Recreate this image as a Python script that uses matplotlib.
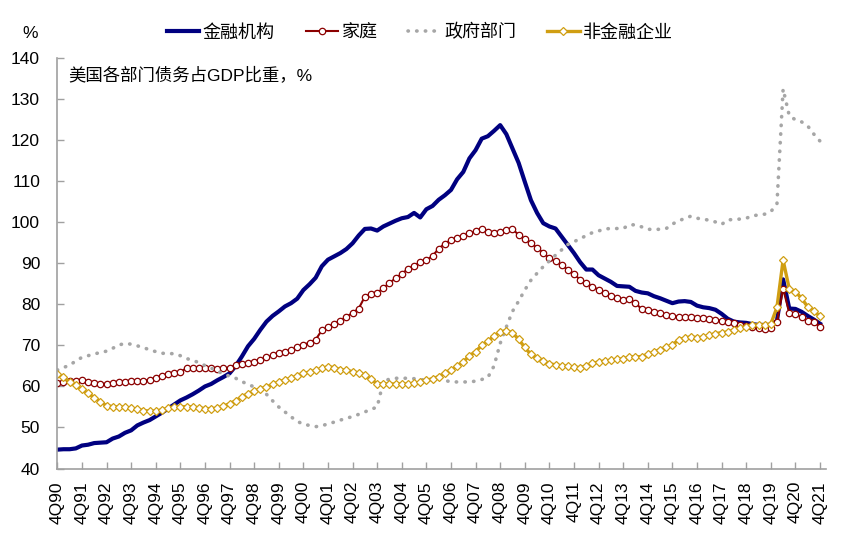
import matplotlib
matplotlib.use("Agg")
import matplotlib.pyplot as plt
import numpy as np

plt.rcParams['font.family'] = ['Liberation Sans', 'Noto Sans CJK SC']

# quarters 4Q90 .. 4Q21
years = list(range(90, 100)) + list(range(0, 22))
tick_labels = ["4Q%02d" % y for y in years]

# debt / GDP, %, one value per quarter (4Q90 first, then Q1..Q4 by year)
financial = [44.6,
    44.7, 44.7, 44.9, 45.6,  45.8, 46.2, 46.3, 46.4,  47.3, 47.8, 48.7, 49.3,
    50.5, 51.2, 51.8, 52.7,  53.6, 54.6, 55.6, 56.6,  57.3, 58.1, 59.0, 60.0,
    60.6, 61.5, 62.3, 63.2,  65.0, 67.3, 69.8, 71.6,  73.8, 75.8, 77.2, 78.3,
    79.5, 80.3, 81.4, 83.5,  84.9, 86.5, 89.3, 90.9,  91.7, 92.5, 93.5, 94.9,
    96.8, 98.4, 98.5, 98.0,  99.0, 99.7, 100.4, 101.0,  101.3, 102.3, 101.2, 103.2,
    104.0, 105.5, 106.6, 107.9,  110.5, 112.3, 115.6, 117.6,  120.4, 121.0, 122.3, 123.7,
    121.5, 118.0, 114.5, 109.9,  105.4, 102.3, 99.8, 99.0,  98.5, 96.5, 94.5, 92.5,
    90.3, 88.5, 88.5, 87.1,  86.3, 85.5, 84.5, 84.4,  84.3, 83.3, 82.9, 82.7,
    82.0, 81.5, 80.9, 80.3,  80.7, 80.8, 80.6, 79.7,  79.3, 79.1, 78.7, 77.7,
    76.5, 75.8, 75.6, 75.5,  75.2, 75.0, 75.0, 75.0,  76.0, 86.1, 79.0, 78.9,
    78.2, 77.2, 76.3, 75.3]

household = [60.8,
    61.2, 61.3, 61.4, 61.5,  61.1, 60.8, 60.7, 60.6,  60.8, 61.0, 61.2, 61.4,
    61.4, 61.4, 61.6, 62.1,  62.6, 63.0, 63.4, 63.6,  64.4, 64.4, 64.4, 64.4,
    64.4, 64.3, 64.4, 64.6,  65.2, 65.5, 65.6, 66.0,  66.5, 67.1, 67.6, 68.2,
    68.4, 68.8, 69.5, 70.1,  70.7, 71.4, 73.7, 74.4,  75.3, 76.0, 77.0, 77.9,
    79.0, 81.9, 82.5, 82.8,  84.0, 85.2, 86.4, 87.4,  88.7, 89.4, 90.3, 90.8,
    91.8, 93.6, 94.8, 95.7,  96.2, 96.7, 97.3, 97.8,  98.5, 97.7, 97.5, 97.6,
    98.1, 98.3, 97.0, 95.9,  94.9, 93.8, 92.6, 91.2,  90.5, 89.6, 88.4, 87.4,
    86.0, 85.2, 84.3, 83.6,  82.8, 82.0, 81.5, 81.0,  81.2, 80.4, 78.8, 78.6,
    78.2, 77.8, 77.5, 77.2,  77.0, 77.0, 76.9, 76.8,  76.7, 76.5, 76.3, 76.0,
    75.8, 75.5, 75.0, 74.8,  74.5, 74.3, 74.1, 74.2,  75.7, 83.8, 78.0, 77.6,
    77.0, 76.0, 75.6, 74.6]

government = [64.0,
    64.6, 65.2, 66.2, 67.1,  67.5, 67.9, 68.3, 68.6,  69.3, 70.1, 70.5, 70.3,
    69.9, 69.5, 68.9, 68.5,  68.1, 68.0, 68.0, 67.5,  66.8, 66.4, 65.8, 65.1,
    64.5, 63.7, 63.1, 62.5,  62.0, 61.2, 60.5, 59.9,  59.0, 58.1, 56.5, 55.0,
    53.8, 52.6, 51.5, 50.8,  50.5, 50.2, 50.4, 50.9,  51.3, 51.8, 52.2, 52.7,
    53.2, 53.8, 54.4, 55.0,  61.2, 61.8, 62.0, 62.0,  62.0, 61.9, 61.7, 61.5,
    61.7, 62.0, 61.5, 61.1,  61.1, 61.1, 61.1, 61.3,  61.7, 62.2, 65.0, 70.5,
    74.5, 78.3, 80.8, 83.5,  85.9, 87.6, 89.2, 90.6,  92.0, 93.3, 94.6, 95.3,
    96.0, 96.8, 97.5, 97.9,  98.4, 98.5, 98.5, 98.5,  99.4, 99.4, 98.9, 98.3,
    98.3, 98.3, 98.5, 99.6,  100.3, 101.0, 101.5, 101.0,  100.8, 100.5, 100.1, 99.5,
    100.6, 100.7, 100.8, 101.0,  101.6, 101.8, 102.0, 102.6,  104.5, 132.5, 126.0, 125.0,
    124.5, 123.5, 121.5, 119.8]

nonfinancial = [63.0,
    62.2, 61.1, 60.3, 59.3,  58.3, 57.3, 56.3, 55.3,  55.1, 55.0, 54.9, 54.7,
    54.4, 54.1, 54.0, 54.0,  54.3, 54.7, 55.0, 55.0,  55.1, 55.0, 54.8, 54.6,
    54.6, 54.7, 55.2, 55.8,  56.5, 57.5, 58.2, 58.9,  59.4, 59.9, 60.5, 61.1,
    61.6, 62.0, 62.6, 63.2,  63.5, 63.9, 64.4, 64.8,  64.6, 64.1, 63.9, 63.6,
    63.3, 62.8, 61.7, 60.7,  60.6, 60.6, 60.6, 60.6,  60.6, 60.8, 61.0, 61.5,
    61.9, 62.4, 63.3, 64.0,  65.0, 66.0, 67.5, 68.5,  70.0, 71.0, 72.3, 73.3,
    73.6, 73.1, 71.5, 69.5,  67.8, 66.9, 66.3, 65.5,  65.3, 65.0, 64.9, 64.7,
    64.6, 65.0, 65.6, 66.0,  66.2, 66.4, 66.6, 66.7,  67.2, 67.2, 67.3, 67.8,
    68.4, 69.0, 69.5, 70.1,  71.4, 71.8, 72.1, 71.9,  72.0, 72.5, 72.9, 73.1,
    73.3, 73.8, 74.3, 74.6,  75.0, 75.0, 75.0, 75.2,  79.3, 90.8, 83.8, 83.1,
    81.5, 79.4, 78.4, 77.1]

series_names = ["金融机构", "家庭", "政府部门", "非金融企业"]

x = np.arange(len(financial))

fig = plt.figure(figsize=(8.66, 5.47), dpi=100)
ax = fig.add_axes([0.0655, 0.1435, 0.8885, 0.75])

ax.plot(x, financial, color="#000080", lw=3.0, label=series_names[0])
ax.plot(x, household, color="#8B0000", lw=1.5, marker="o", ms=4.6,
        mfc="white", mec="#8B0000", mew=0.9, label=series_names[1])
ax.plot(x, government, color="#A6A6A6", lw=2.6, linestyle=(0, (0.1, 2.3)),
        dash_capstyle="round", label=series_names[2])
ax.plot(x, nonfinancial, color="#D09E12", lw=2.4, marker="D", ms=3.8,
        mfc="white", mec="#D09E12", mew=0.9, label=series_names[3])

ax.set_xlim(-0.1, 125)
ax.set_ylim(40, 140)
ax.set_yticks(range(40, 141, 10))
ax.set_xticks(x[::4])
ax.set_xticklabels(tick_labels, rotation=90)

for s in ["top", "right"]:
    ax.spines[s].set_visible(False)
for s in ["left", "bottom"]:
    ax.spines[s].set_color("#A0A0A0")
    ax.spines[s].set_linewidth(1.2)
ax.tick_params(axis="both", direction="in", length=5, width=1,
               color="#A0A0A0", labelsize=12.5)
ax.tick_params(axis="y", pad=12)
ax.tick_params(axis="x", pad=9)

ax.text(0.015, 0.959, "美国各部门债务占GDP比重，%", transform=ax.transAxes,
        fontsize=12.5, va="center", ha="left")
fig.text(30 / 866, 1 - 33 / 547, "%", fontsize=12.5, ha="center", va="center")

fig.legend(loc="center", bbox_to_anchor=(0.485, 1 - 33 / 547), ncol=4,
           frameon=False, fontsize=13, handlelength=1.8, handletextpad=0.2,
           columnspacing=1.7)

fig.savefig("out.png", dpi=100)
